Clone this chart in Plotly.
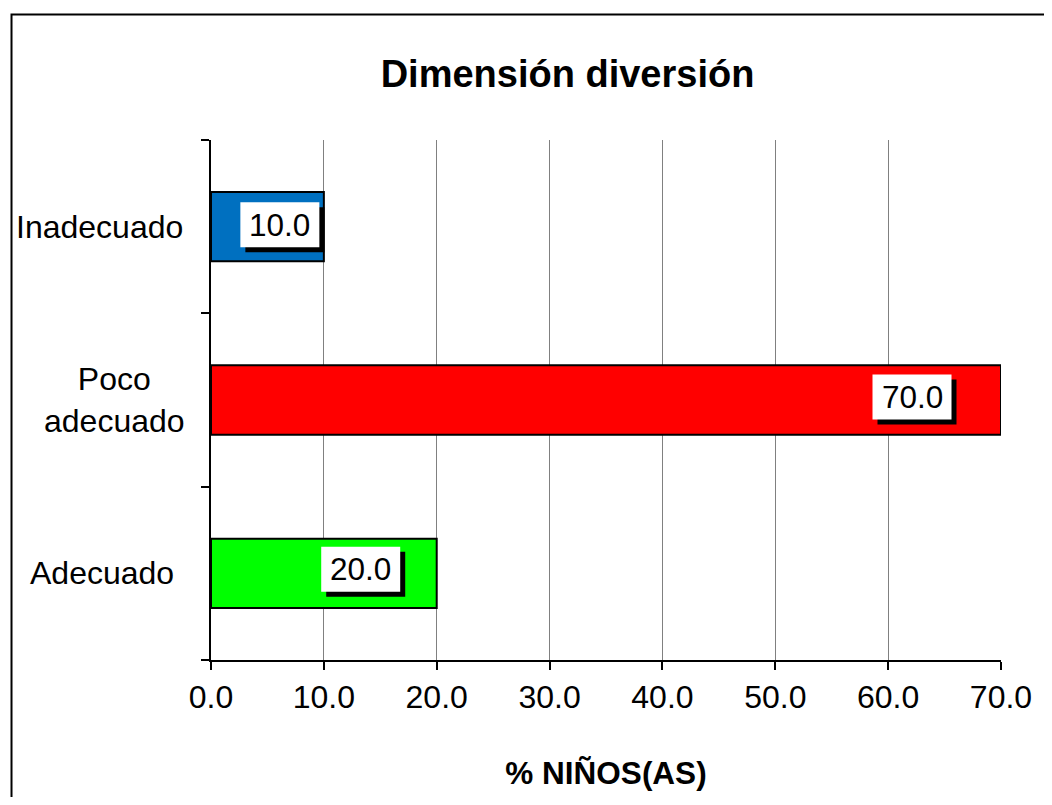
import plotly.graph_objects as go

# Data
categories = ["Adecuado", "Poco adecuado", "Inadecuado"]
values = [20.0, 70.0, 10.0]
category_labels = ["Adecuado", "Poco<br>adecuado", "Inadecuado"]
x_ticks = [0, 10, 20, 30, 40, 50, 60, 70]

# Styles
bar_colors = ["#00FF00", "#FF0000", "#0070C0"]
label_xshift = [-76, -89, -44]
label_yshift = [4, 3, 2]
label_center_px = [101, 114, 99]  # horizontal centers of category labels (screen px)

FONT = "Liberation Sans, Arial, sans-serif"
OFF = 8  # default page body margin
W, H = 1052 - 2 * OFF, 805 - 2 * OFF
L = 211 - OFF
T = 140 - OFF
R = W - (1005 - OFF)
B = H - (660 - OFF)
plot_w = W - L - R
plot_h = H - T - B
BOX_W, BOX_H, SH = 79, 45, 5

fig = go.Figure()
fig.add_trace(go.Bar(
    y=categories, x=values, orientation="h",
    marker=dict(color=bar_colors, line=dict(color="black", width=2)),
    hoverinfo="skip",
))

annotations = []
shapes = []
for cat, v, xs, ys in zip(categories, values, label_xshift, label_yshift):
    # shadow box
    shapes.append(dict(
        type="rect", xref="x", yref="y", xsizemode="pixel", ysizemode="pixel",
        xanchor=v, yanchor=cat,
        x0=xs - BOX_W / 2 + SH, x1=xs + BOX_W / 2 + SH,
        y0=ys - BOX_H / 2 - SH, y1=ys + BOX_H / 2 - SH,
        fillcolor="black", line=dict(width=0), layer="above",
    ))
    # white box
    shapes.append(dict(
        type="rect", xref="x", yref="y", xsizemode="pixel", ysizemode="pixel",
        xanchor=v, yanchor=cat,
        x0=xs - BOX_W / 2, x1=xs + BOX_W / 2,
        y0=ys - BOX_H / 2, y1=ys + BOX_H / 2,
        fillcolor="white", line=dict(width=0), layer="above",
    ))
    annotations.append(dict(
        x=v, y=cat, xref="x", yref="y", text=f"{v:.1f}", showarrow=False,
        xshift=xs, yshift=ys,
        font=dict(family=FONT, size=31.5, color="black"),
    ))

for cat, lab, cx in zip(categories, category_labels, label_center_px):
    annotations.append(dict(
        x=(cx - OFF - L) / plot_w, y=cat, xref="paper", yref="y", text=lab,
        showarrow=False, xanchor="center", align="center",
        font=dict(family=FONT, size=32, color="black"),
    ))

shapes.append(dict(
    type="rect", xref="paper", yref="paper",
    x0=(10.5 - OFF - L) / plot_w, x1=1.3,
    y0=-0.6, y1=(H - B - (14.5 - OFF)) / plot_h,
    line=dict(color="black", width=2), fillcolor="rgba(0,0,0,0)",
    layer="above",
))

fig.update_layout(
    width=W, height=H,
    margin=dict(l=L, r=R, t=T, b=B),
    paper_bgcolor="white", plot_bgcolor="white",
    bargap=0.6,
    showlegend=False,
    title=dict(
        text="<b>Dimensión diversión</b>",
        x=(567.5 - OFF) / W, xanchor="center", xref="container",
        y=1 - (74 - OFF) / H, yanchor="middle", yref="container",
        font=dict(family=FONT, size=38, color="black"),
    ),
    xaxis=dict(
        range=[0, 70], tickvals=x_ticks, tickformat=".1f",
        showgrid=True, gridcolor="#808080", gridwidth=1,
        showline=True, linecolor="black", linewidth=2,
        ticks="outside", ticklen=8, tickcolor="black", tickwidth=2,
        tickfont=dict(family=FONT, size=32, color="black"),
        zeroline=False,
        title=dict(text="<b>% NIÑOS(AS)</b>", standoff=48,
                   font=dict(family=FONT, size=31.5, color="black")),
        fixedrange=True,
    ),
    yaxis=dict(
        categoryorder="array", categoryarray=categories,
        showgrid=False, showline=True, linecolor="black", linewidth=2,
        ticks="outside", ticklen=8, tickcolor="black", tickwidth=2,
        tickson="boundaries", showticklabels=False, zeroline=False,
        fixedrange=True,
    ),
    annotations=annotations,
    shapes=shapes,
)

fig.write_html("out.html")
